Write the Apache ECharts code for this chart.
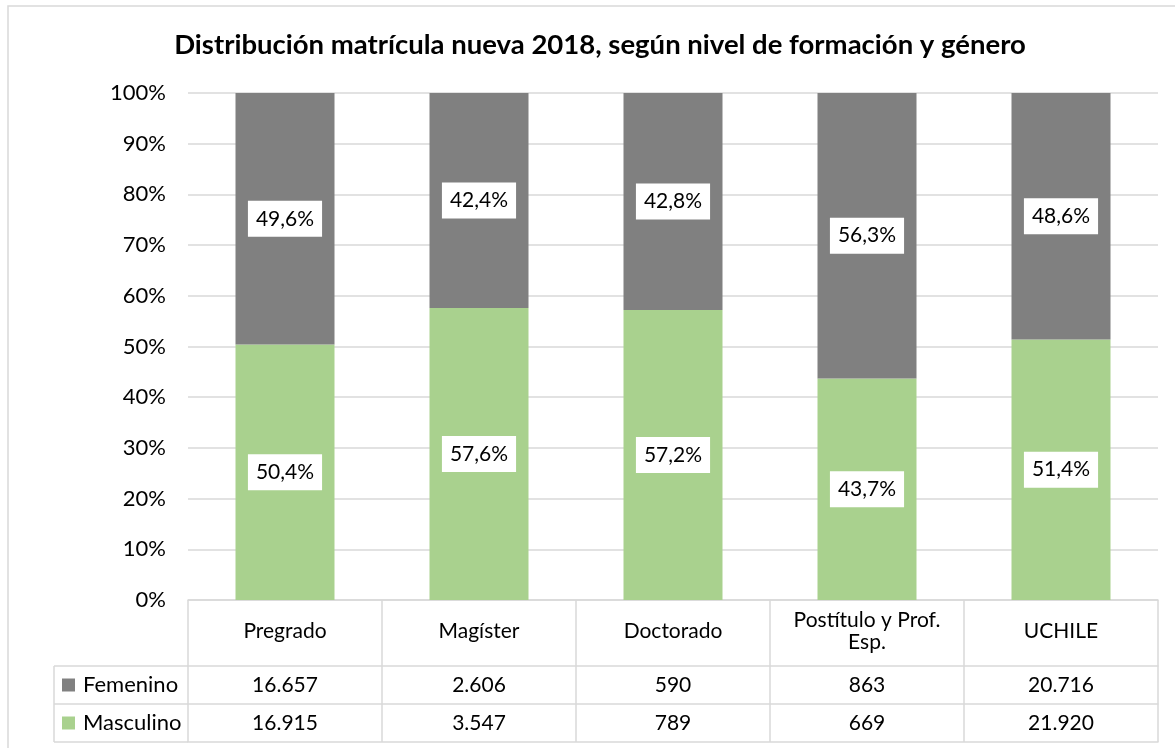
<!DOCTYPE html>
<html>
<head>
<meta charset="utf-8">
<script src="https://cdn.jsdelivr.net/npm/echarts@6/dist/echarts.min.js"></script>
<style>
  html, body { margin: 0; padding: 0; background: #fff; }
  #chart { width: 1175px; height: 748px; }
</style>
</head>
<body>
<div id="chart"></div>
<script>
const categories = ['Pregrado', 'Magíster', 'Doctorado', 'Postítulo y Prof.\nEsp.', 'UCHILE'];
const femeninoPct = [49.6, 42.4, 42.8, 56.3, 48.6];
const masculinoPct = [50.4, 57.6, 57.2, 43.7, 51.4];
const femeninoCount = ['16.657', '2.606', '590', '863', '20.716'];
const masculinoCount = ['16.915', '3.547', '789', '669', '21.920'];

const TITLE = 'Distribución matrícula nueva 2018, según nivel de formación y género';
const FONT = 'Lato, "Open Sans", sans-serif';
const GRID_LINE = '#d9d9d9';
const GRAY = '#808080';
const GREEN = '#a9d18e';

const pctLabel = (value) => `${Number(value).toFixed(1).replace('.', ',')}%`;

const barLabel = {
  show: true,
  position: 'inside',
  formatter: (p) => pctLabel(p.value),
  backgroundColor: '#fff',
  padding: [8, 8, 7, 8],
  color: '#000',
  fontFamily: FONT,
  fontSize: 21,
};

// extra x axes act as the rows of the data table under the plot
function tableAxis(data, offset, showLabels) {
  return {
    type: 'category',
    data,
    position: 'bottom',
    offset,
    axisLine: { show: true, lineStyle: { color: GRID_LINE, width: 1.5 } },
    axisTick: { show: false },
    axisLabel: {
      show: showLabels,
      interval: 0,
      margin: 19,
      verticalAlign: 'middle',
      color: '#000',
      fontFamily: FONT,
      fontSize: 21,
    },
    splitLine: { show: false },
  };
}

const chart = echarts.init(document.getElementById('chart'));

chart.setOption({
  backgroundColor: '#fff',
  animation: false,
  legend: {
    data: ['Femenino', 'Masculino'],
    orient: 'vertical',
    left: 62,
    top: 674,
    padding: 0,
    icon: 'rect',
    itemWidth: 13,
    itemHeight: 13,
    itemGap: 16,
    textStyle: { fontFamily: FONT, fontSize: 22, color: '#000', lineHeight: 22, padding: [0, 0, 0, 3] },
  },
  grid: { left: 188, right: 17, top: 93, bottom: 148 },
  xAxis: [
    {
      type: 'category',
      data: categories,
      position: 'bottom',
      axisLine: { show: true, lineStyle: { color: GRID_LINE, width: 1.5 } },
      axisTick: { show: true, interval: 0, length: 142, lineStyle: { color: GRID_LINE, width: 1.5 } },
      axisLabel: {
        interval: 0,
        margin: 31,
        verticalAlign: 'middle',
        lineHeight: 22,
        color: '#000',
        fontFamily: FONT,
        fontSize: 21,
      },
      splitLine: { show: false },
    },
    tableAxis(femeninoCount, 66, true),
    tableAxis(masculinoCount, 104, true),
    tableAxis(categories, 142, false),
  ],
  yAxis: {
    type: 'value',
    min: 0,
    max: 100,
    interval: 10,
    axisLine: { show: false },
    axisTick: { show: false },
    axisLabel: { formatter: '{value}%', margin: 22, color: '#000', fontFamily: FONT, fontSize: 22 },
    splitLine: { lineStyle: { color: GRID_LINE, width: 1.5 } },
  },
  series: [
    {
      name: 'Masculino',
      type: 'bar',
      stack: 'total',
      barWidth: 99,
      itemStyle: { color: GREEN },
      label: barLabel,
      data: masculinoPct,
    },
    {
      name: 'Femenino',
      type: 'bar',
      stack: 'total',
      barWidth: 99,
      itemStyle: { color: GRAY },
      label: barLabel,
      data: femeninoPct,
    },
  ],
  graphic: [
    { type: 'rect', shape: { x: 8, y: 6, width: 1200, height: 800 }, style: { fill: null, stroke: GRID_LINE, lineWidth: 1.5 }, silent: true },
    {
      type: 'text',
      x: 600,
      y: 45,
      style: {
        text: TITLE,
        align: 'center',
        verticalAlign: 'middle',
        fill: '#000',
        font: `bold 27.5px ${FONT}`,
      },
    },
    { type: 'line', shape: { x1: 54, y1: 666, x2: 54, y2: 742 }, style: { stroke: GRID_LINE, lineWidth: 1.5 } },
    { type: 'line', shape: { x1: 54, y1: 666, x2: 188, y2: 666 }, style: { stroke: GRID_LINE, lineWidth: 1.5 } },
    { type: 'line', shape: { x1: 54, y1: 704, x2: 188, y2: 704 }, style: { stroke: GRID_LINE, lineWidth: 1.5 } },
    { type: 'line', shape: { x1: 54, y1: 742, x2: 188, y2: 742 }, style: { stroke: GRID_LINE, lineWidth: 1.5 } },
  ],
});

window.addEventListener('resize', () => chart.resize());
</script>
</body>
</html>
